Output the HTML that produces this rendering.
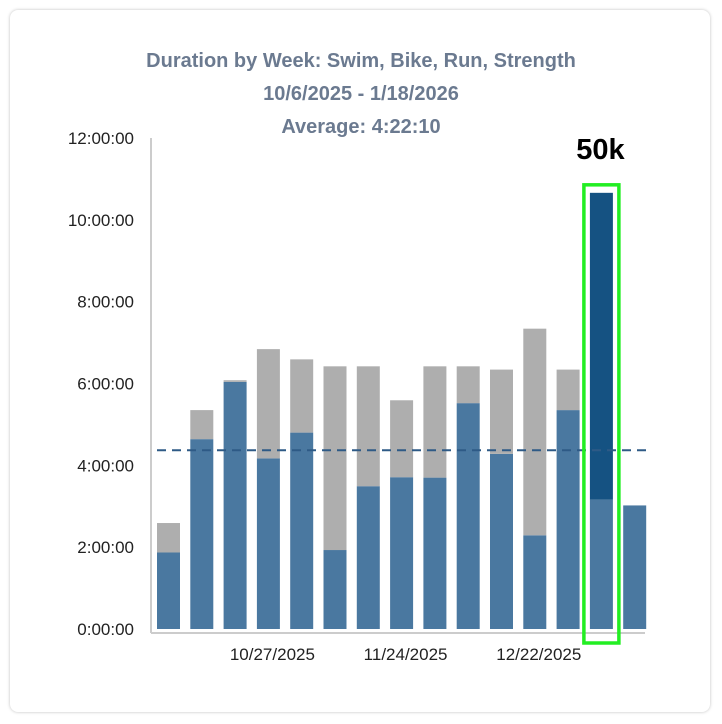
<!DOCTYPE html>
<html><head><meta charset="utf-8"><style>
body{margin:0;background:#fff;font-family:"Liberation Sans",sans-serif}
#card{position:absolute;left:10px;top:10px;width:700px;height:702px;border-radius:8px;box-shadow:0 0 3px rgba(0,0,0,0.25);background:#fff}
</style></head><body>
<div id="card"></div>
<svg id="chart" width="722" height="724" style="position:absolute;left:0;top:0">
<g font-weight="bold" font-size="20" fill="#6b7a90" text-anchor="middle">
<text x="361" y="67">Duration by Week: Swim, Bike, Run, Strength</text>
<text x="361" y="100">10/6/2025 - 1/18/2026</text>
<text x="361" y="133">Average: 4:22:10</text>
</g>
</svg>
<script>
const weeks=['10/6/2025','10/13/2025','10/20/2025','10/27/2025','11/3/2025','11/10/2025','11/17/2025','11/24/2025','12/1/2025','12/8/2025','12/15/2025','12/22/2025','12/29/2025','1/5/2026','1/12/2026'];
const blueHours=[1.87,4.64,6.04,4.17,4.80,1.93,3.49,3.71,3.70,5.52,4.28,2.29,5.35,3.16,3.02];
const grayHours=[0.72,0.71,0.04,2.67,1.79,4.49,2.93,1.88,2.72,0.90,2.06,5.05,0.99,0,0];
const darkHours=[0,0,0,0,0,0,0,0,0,0,0,0,0,7.50,0];
const yTicks=[0,2,4,6,8,10,12];
const yTickLabels=['0:00:00','2:00:00','4:00:00','6:00:00','8:00:00','10:00:00','12:00:00'];
const xLabelIdx=[3,7,11];
const average=4.369;
const highlightIdx=13;
const highlightText='50k';

const svg=document.getElementById('chart');
const NS='http://www.w3.org/2000/svg';
const y0=629,pxh=(629-138)/12,x0=157,step=33.3,bw=23;
const Y=h=>y0-h*pxh, X=i=>x0+i*step;
function mk(t,a){const e=document.createElementNS(NS,t);for(const k in a)e.setAttribute(k,a[k]);svg.appendChild(e);return e;}
yTicks.forEach((v,i)=>{
 const t=mk('text',{x:134,y:Y(v)+6,'text-anchor':'end','font-size':17,fill:'#222'});
 t.textContent=yTickLabels[i];
 
 
});
const ax=mk('line',{x1:151,y1:138,x2:151,y2:633,stroke:'#ccc','stroke-width':2});


const bx=mk('line',{x1:151,y1:633,x2:645,y2:633,stroke:'#ccc','stroke-width':2});


weeks.forEach((w,i)=>{
 const b=blueHours[i],g=grayHours[i],d=darkHours[i];
 const r1=mk('rect',{x:X(i),y:Y(b),width:bw,height:b*pxh,fill:'#4a78a0'});
 
 
 if(g>0){const r2=mk('rect',{x:X(i),y:Y(b+g),width:bw,height:g*pxh,fill:'#aeaeae'});
 
 }
 if(d>0){const r3=mk('rect',{x:X(i),y:Y(b+d),width:bw,height:d*pxh,fill:'#155282'});
 
 }
});
xLabelIdx.forEach(i=>{
 const t=mk('text',{x:X(i)+bw/2+4,y:660,'text-anchor':'middle','font-size':17,fill:'#222'});
 t.textContent=weeks[i];
 
 
});
const al=mk('line',{x1:157,y1:Y(average),x2:646,y2:Y(average),stroke:'#2e5a86','stroke-width':2,'stroke-dasharray':'9,6'});


const hx=X(highlightIdx);
const hb=blueHours[highlightIdx]+darkHours[highlightIdx]+grayHours[highlightIdx];
const hr=mk('rect',{x:hx-6,y:Y(hb)-8,width:bw+12,height:643-(Y(hb)-8),fill:'none',stroke:'#22ee22','stroke-width':3.5});


const ht=mk('text',{x:hx+bw/2-1,y:159,'text-anchor':'middle','font-size':29,'font-weight':'bold',fill:'#000'});
ht.textContent=highlightText;


</script>
</body></html>
